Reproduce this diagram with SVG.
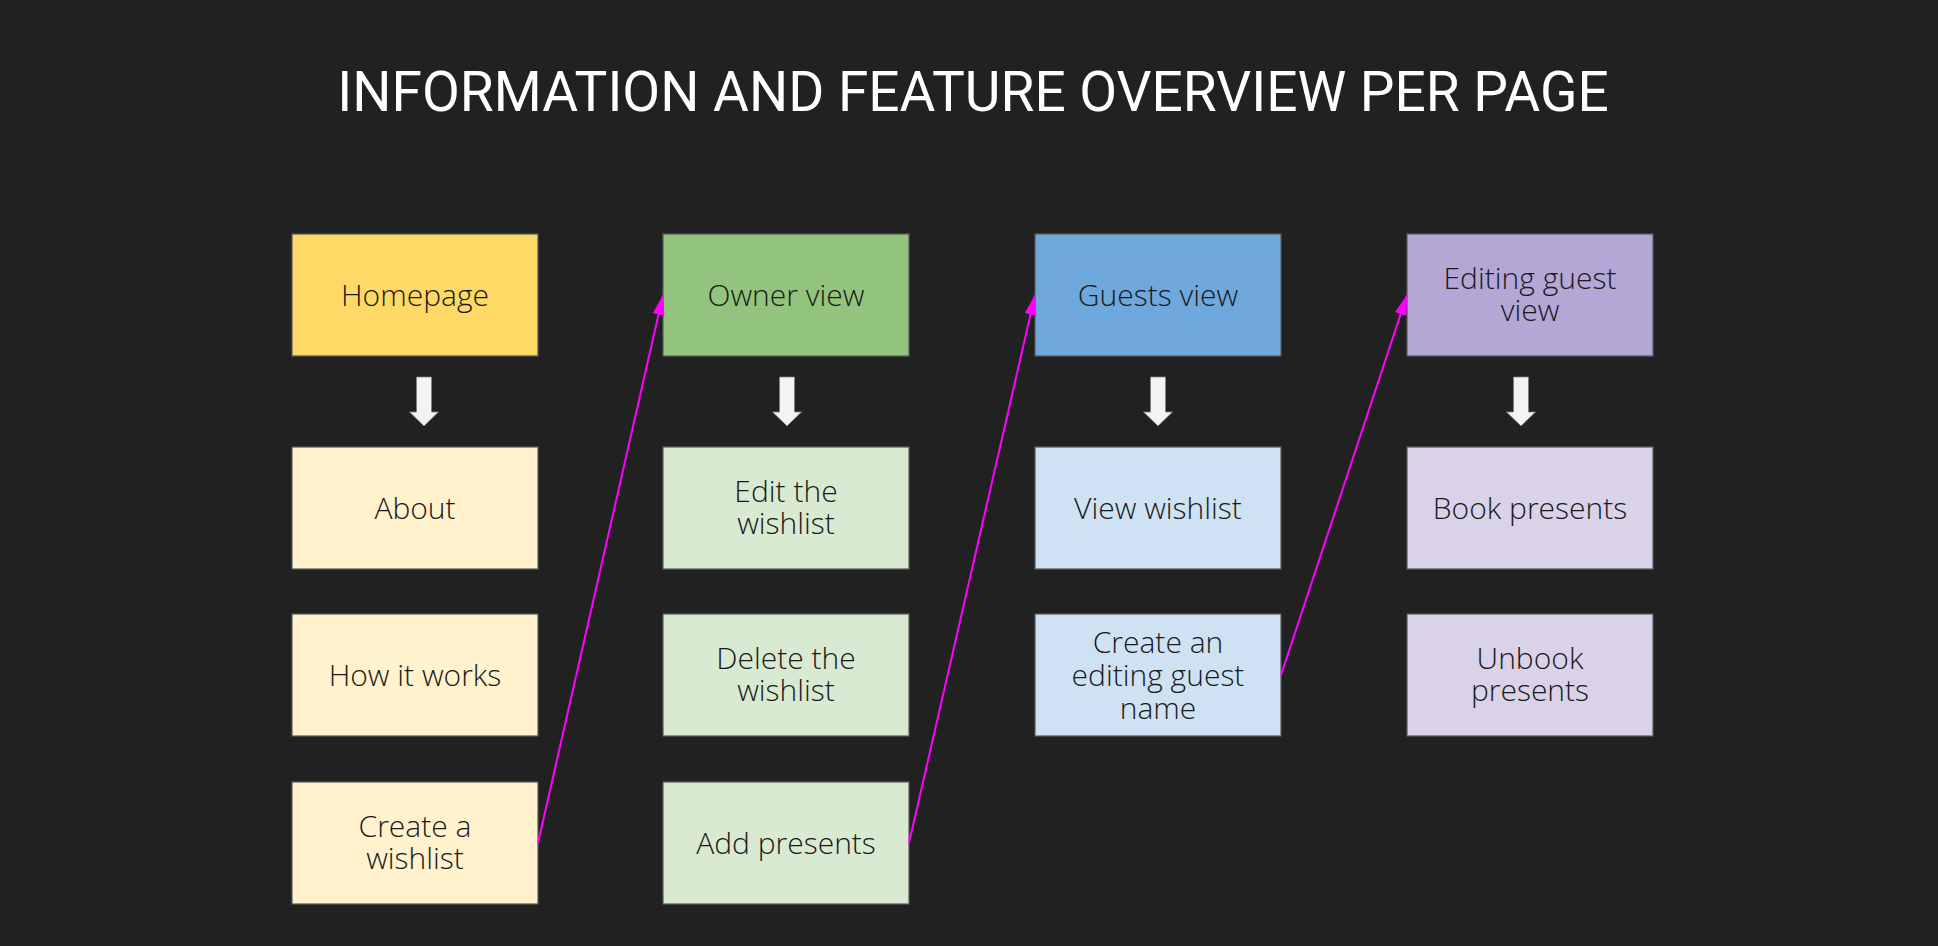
<svg xmlns="http://www.w3.org/2000/svg" width="1938" height="946" viewBox="0 0 1938 946">
<defs>
<style>
.box{stroke:#595959;stroke-width:1.2}
.lbl{font-family:"Open Sans","Liberation Sans",sans-serif;font-weight:300;font-size:30px;fill:#1a1a1a;text-anchor:middle}
.title{font-family:Roboto,"Liberation Sans",sans-serif;font-weight:400;font-size:55px;fill:#ffffff;text-anchor:middle}
.blk{fill:#f3f3f3;stroke:#7f7f7f;stroke-width:0.8}
.link{stroke:#ff00ff;stroke-width:2;fill:none}
.y1{fill:#ffd966}.y2{fill:#fff2cc}
.g1{fill:#93c47d}.g2{fill:#d9ead3}
.b1{fill:#6fa8dc}.b2{fill:#cfe2f3}
.p1{fill:#b4a7d6}.p2{fill:#d9d2e9}
</style>
<marker id="mh" viewBox="0 0 20 12" refX="20" refY="6" markerWidth="20" markerHeight="12" markerUnits="userSpaceOnUse" orient="auto">
<path d="M0,0 L20,6 L0,12 Z" fill="#ff00ff"/>
</marker>
<path id="down" d="M-7.5,0 H7.5 V35 H14.5 L0,49 L-14.5,35 H-7.5 Z"/>
</defs>
<rect width="1938" height="946" fill="#212121"/>
<text class="title" x="973" y="111">INFORMATION AND FEATURE OVERVIEW PER PAGE</text>

<g id="homepage"><rect class="box y1" x="292" y="234" width="246" height="122"/><text class="lbl" x="415" y="306">Homepage</text></g>
<g id="about"><rect class="box y2" x="292" y="447" width="246" height="122"/><text class="lbl" x="415" y="519">About</text></g>
<g id="how-it-works"><rect class="box y2" x="292" y="614" width="246" height="122"/><text class="lbl" x="415" y="686">How it works</text></g>
<g id="create-wishlist"><rect class="box y2" x="292" y="782" width="246" height="122"/><text class="lbl" x="415" y="837">Create a</text><text class="lbl" x="415" y="869">wishlist</text></g>

<g id="owner-view"><rect class="box g1" x="663" y="234" width="246" height="122"/><text class="lbl" x="786" y="306">Owner view</text></g>
<g id="edit-wishlist"><rect class="box g2" x="663" y="447" width="246" height="122"/><text class="lbl" x="786" y="502">Edit the</text><text class="lbl" x="786" y="534">wishlist</text></g>
<g id="delete-wishlist"><rect class="box g2" x="663" y="614" width="246" height="122"/><text class="lbl" x="786" y="669">Delete the</text><text class="lbl" x="786" y="701">wishlist</text></g>
<g id="add-presents"><rect class="box g2" x="663" y="782" width="246" height="122"/><text class="lbl" x="786" y="854">Add presents</text></g>

<g id="guests-view"><rect class="box b1" x="1035" y="234" width="246" height="122"/><text class="lbl" x="1158" y="306">Guests view</text></g>
<g id="view-wishlist"><rect class="box b2" x="1035" y="447" width="246" height="122"/><text class="lbl" x="1158" y="519">View wishlist</text></g>
<g id="create-editing-guest"><rect class="box b2" x="1035" y="614" width="246" height="122"/><text class="lbl" x="1158" y="653">Create an</text><text class="lbl" x="1158" y="686">editing guest</text><text class="lbl" x="1158" y="719">name</text></g>

<g id="editing-guest-view"><rect class="box p1" x="1407" y="234" width="246" height="122"/><text class="lbl" x="1530" y="289">Editing guest</text><text class="lbl" x="1530" y="321">view</text></g>
<g id="book-presents"><rect class="box p2" x="1407" y="447" width="246" height="122"/><text class="lbl" x="1530" y="519">Book presents</text></g>
<g id="unbook-presents"><rect class="box p2" x="1407" y="614" width="246" height="122"/><text class="lbl" x="1530" y="669">Unbook</text><text class="lbl" x="1530" y="701">presents</text></g>

<g id="connectors">
<use href="#down" class="blk" x="424" y="377"/>
<use href="#down" class="blk" x="787" y="377"/>
<use href="#down" class="blk" x="1158" y="377"/>
<use href="#down" class="blk" x="1521" y="377"/>
<line class="link" x1="538" y1="843" x2="663" y2="295" marker-end="url(#mh)"/>
<line class="link" x1="909" y1="843" x2="1035" y2="295" marker-end="url(#mh)"/>
<line class="link" x1="1281" y1="675" x2="1407" y2="295" marker-end="url(#mh)"/>
</g>
</svg>
